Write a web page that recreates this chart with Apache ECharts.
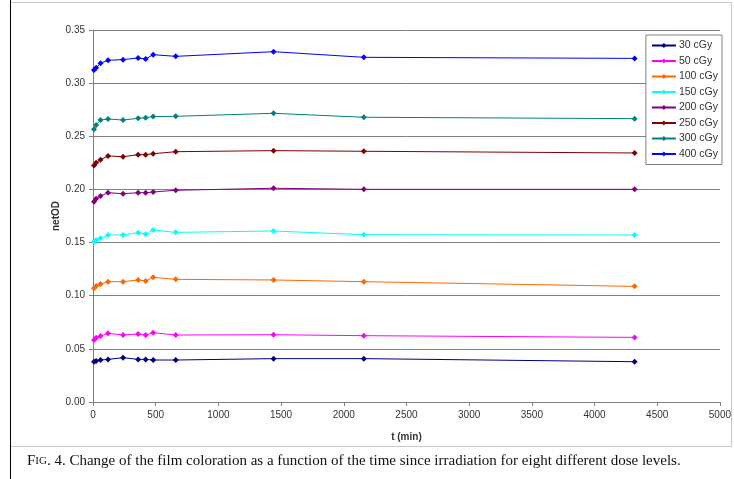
<!DOCTYPE html>
<html>
<head>
<meta charset="utf-8">
<script src="https://cdn.jsdelivr.net/npm/echarts@6/dist/echarts.min.js"></script>
<style>
  html, body { margin: 0; padding: 0; background: #fff; }
  #chart { width: 734px; height: 479px; }
</style>
</head>
<body>
<div id="chart"></div>
<script>
// time since irradiation (min)
const times = [8, 25, 60, 120, 240, 360, 420, 480, 660, 1440, 2160, 4320]

const doseNames = ['30 cGy', '50 cGy', '100 cGy', '150 cGy', '200 cGy', '250 cGy', '300 cGy', '400 cGy']
const doseColors = ['#000080', '#ff00ff', '#ff6600', '#00ffff', '#800080', '#800000', '#008080', '#0000ff']

// netOD
const od30 = [0.0379, 0.0386, 0.0395, 0.0401, 0.0417, 0.0401, 0.0401, 0.0395, 0.0395, 0.0408, 0.0408, 0.0379]
const od50 = [0.0583, 0.0605, 0.0621, 0.0646, 0.0630, 0.0640, 0.0630, 0.0652, 0.0630, 0.0633, 0.0624, 0.0608]
const od100 = [0.1070, 0.1091, 0.1110, 0.1132, 0.1132, 0.1148, 0.1138, 0.1173, 0.1154, 0.1148, 0.1132, 0.1088]
const od150 = [0.1508, 0.1524, 0.1540, 0.1571, 0.1571, 0.1593, 0.1578, 0.1618, 0.1596, 0.1609, 0.1574, 0.1571]
const od200 = [0.1885, 0.1913, 0.1938, 0.1969, 0.1960, 0.1969, 0.1969, 0.1976, 0.1992, 0.2011, 0.2001, 0.2001]
const od250 = [0.2225, 0.2250, 0.2280, 0.2315, 0.2308, 0.2327, 0.2327, 0.2336, 0.2355, 0.2365, 0.2359, 0.2343]
const od300 = [0.2566, 0.2606, 0.2653, 0.2663, 0.2653, 0.2669, 0.2675, 0.2685, 0.2688, 0.2716, 0.2679, 0.2666]
const od400 = [0.3124, 0.3146, 0.3187, 0.3215, 0.3221, 0.3237, 0.3227, 0.3268, 0.3252, 0.3296, 0.3243, 0.3233]

const allOD = [od30, od50, od100, od150, od200, od250, od300, od400]

const chart = echarts.init(document.getElementById('chart'))

const series = doseNames.map((name, i) => ({
  name: name,
  type: 'line',
  data: times.map((t, k) => [t, allOD[i][k]]),
  symbol: 'diamond',
  symbolSize: 6,
  showSymbol: true,
  lineStyle: { color: doseColors[i], width: 1 },
  itemStyle: { color: doseColors[i] }
}))

const axisFont = { fontFamily: 'Liberation Sans, Arial, sans-serif', fontSize: 10, color: '#333' }

chart.setOption({
  animation: false,
  backgroundColor: '#fff',
  textStyle: { fontFamily: 'Liberation Sans, Arial, sans-serif' },
  grid: { left: 93, right: 14, top: 30, bottom: 77, containLabel: false },
  legend: {
    orient: 'vertical',
    right: 12,
    top: 35,
    itemWidth: 24,
    itemHeight: 6,
    itemGap: 4.5,
    padding: [5, 4, 5, 5],
    backgroundColor: '#fff',
    borderColor: '#808080',
    borderWidth: 1,
    textStyle: { ...axisFont, fontSize: 10.5, padding: [0, 0, 0, -2] },
    data: doseNames
  },
  xAxis: {
    type: 'value',
    min: 0,
    max: 5000,
    interval: 500,
    name: 't (min)',
    nameLocation: 'middle',
    nameGap: 30,
    nameMoveOverlap: false,
    nameTextStyle: { ...axisFont, fontWeight: 'bold' },
    axisLine: { show: true, lineStyle: { color: '#808080' } },
    axisTick: { show: true, length: 4, lineStyle: { color: '#808080' } },
    axisLabel: { ...axisFont, margin: 8, formatter: v => String(v) },
    splitLine: { show: false }
  },
  yAxis: {
    type: 'value',
    min: 0,
    max: 0.35,
    interval: 0.05,
    name: 'netOD',
    nameLocation: 'middle',
    nameGap: 32,
    nameMoveOverlap: false,
    nameTextStyle: { ...axisFont, fontWeight: 'bold' },
    axisLine: { show: true, lineStyle: { color: '#808080' } },
    axisTick: { show: true, length: 4, lineStyle: { color: '#808080' } },
    axisLabel: { ...axisFont, margin: 8, formatter: v => v.toFixed(2) },
    splitLine: { show: true, lineStyle: { color: '#808080', width: 1 } }
  },
  graphic: [
    { type: 'rect', shape: { x: 10.5, y: 2.5, width: 721, height: 444 }, style: { fill: null, stroke: '#c8c8c8', lineWidth: 1 }, z: -1 },
    { type: 'line', shape: { x1: 10.5, y1: 0, x2: 10.5, y2: 479 }, style: { stroke: '#000', lineWidth: 1 } },
    {
      type: 'text',
      left: 27,
      top: 454,
      style: {
        text: '{a|F}{b|IG}{a|. 4. Change of the film coloration as a function of the time since irradiation for eight different dose levels.}',
        rich: {
          a: { fontFamily: 'Liberation Serif, Times New Roman, serif', fontSize: 15, fill: '#111' },
          b: { fontFamily: 'Liberation Serif, Times New Roman, serif', fontSize: 11, fill: '#111' }
        }
      }
    }
  ],
  series: series
})
</script>
</body>
</html>
